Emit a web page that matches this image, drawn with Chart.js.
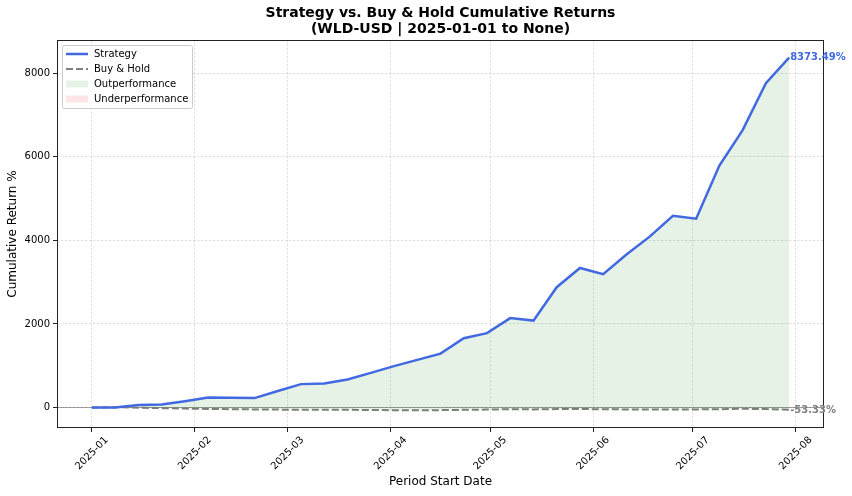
<!DOCTYPE html>
<html>
<head>
<meta charset="utf-8">
<script src="https://cdn.jsdelivr.net/npm/chart.js@4.4.0/dist/chart.umd.min.js"></script>
<style>
html,body{margin:0;padding:0;background:#fff;}
#wrap{width:852px;height:496px;position:relative;}
</style>
</head>
<body>
<div id="wrap"><canvas id="c" width="852" height="496"></canvas></div>
<script>
const periodDates = ["2025-01-01","2025-01-08","2025-01-15","2025-01-22","2025-01-29","2025-02-05","2025-02-12","2025-02-19","2025-02-26","2025-03-05","2025-03-12","2025-03-19","2025-03-26","2025-04-02","2025-04-09","2025-04-16","2025-04-23","2025-04-30","2025-05-07","2025-05-14","2025-05-21","2025-05-28","2025-06-04","2025-06-11","2025-06-18","2025-06-25","2025-07-02","2025-07-09","2025-07-16","2025-07-23","2025-07-30"];
const strategyReturns = [0,2,60,70,150,240,235,225,395,560,575,670,830,990,1140,1290,1660,1780,2140,2080,2880,3340,3190,3660,4090,4590,4520,5790,6640,7760,8373.49];
const buyHoldReturns = [0,8,-5,-15,-25,-35,-40,-45,-50,-55,-52,-55,-58,-65,-68,-62,-55,-50,-40,-45,-38,-35,-42,-45,-50,-48,-45,-40,-30,-38,-53.33];
const monthTickDates = ["2025-01-01","2025-02-01","2025-03-01","2025-04-01","2025-05-01","2025-06-01","2025-07-01","2025-08-01"];
const monthTickLabels = ["2025-01","2025-02","2025-03","2025-04","2025-05","2025-06","2025-07","2025-08"];
const yTickValues = [0,2000,4000,6000,8000];
const strategyFinalLabel = "8373.49%";
const buyHoldFinalLabel = "-53.33%";

const DAY = 86400000;
const t0 = Date.UTC(2025,0,1);
function dayNum(s){const p=s.split('-').map(Number);return (Date.UTC(p[0],p[1]-1,p[2])-t0)/DAY;}
const xs = periodDates.map(dayNum);
const monthTicks = monthTickDates.map(dayNum);
const FONT = "'DejaVu Sans', sans-serif";

const stratPts = xs.map((x,i)=>({x:x,y:strategyReturns[i]}));
const bhPts = xs.map((x,i)=>({x:x,y:buyHoldReturns[i]}));

const xMin = xs[0] - (xs[xs.length-1]-xs[0])*0.05;
const xMax = xs[xs.length-1] + (xs[xs.length-1]-xs[0])*0.05;
const allY = strategyReturns.concat(buyHoldReturns);
const yLo = Math.min(...allY), yHi = Math.max(...allY);
const yMin = yLo - (yHi-yLo)*0.05, yMax = yHi + (yHi-yLo)*0.05;

const decor = {
  id:'decor',
  beforeDatasetsDraw(chart){
    const ctx=chart.ctx, a=chart.chartArea, ys=chart.scales.y;
    const y0=ys.getPixelForValue(0);
    ctx.save();
    ctx.strokeStyle='rgba(0,0,0,0.45)';
    ctx.lineWidth=0.8;
    ctx.beginPath();ctx.moveTo(a.left,y0);ctx.lineTo(a.right,y0);ctx.stroke();
    ctx.restore();
  },
  afterDraw(chart){
    const ctx=chart.ctx, a=chart.chartArea, xsc=chart.scales.x, ysc=chart.scales.y;
    ctx.save();
    // frame
    ctx.strokeStyle='#222';ctx.lineWidth=1;
    ctx.strokeRect(a.left+0.5,a.top+0.5,a.right-a.left-1,a.bottom-a.top-1);
    // x tick labels (rotated 45, centered on tick)
    ctx.font="10px "+FONT;ctx.fillStyle='#000';ctx.textAlign='center';ctx.textBaseline='middle';
    monthTicks.forEach((v,i)=>{
      const px=xsc.getPixelForValue(v);
      const w=ctx.measureText(monthTickLabels[i]).width, h=10;
      const bh=(w+h)*Math.SQRT1_2;
      ctx.save();ctx.translate(px,a.bottom+7+bh/2);ctx.rotate(-Math.PI/4);
      ctx.fillText(monthTickLabels[i],0,0);ctx.restore();
    });
    // title
    const cx=(a.left+a.right)/2;
    ctx.fillStyle='#000';ctx.textAlign='center';ctx.textBaseline='middle';
    ctx.font="bold 14px "+FONT;
    ctx.fillText("Strategy vs. Buy & Hold Cumulative Returns",cx,13);
    ctx.fillText("(WLD-USD | 2025-01-01 to None)",cx,29);
    // axis titles
    ctx.font="12px "+FONT;
    ctx.fillText("Period Start Date",cx,482);
    ctx.save();ctx.translate(13,(a.top+a.bottom)/2);ctx.rotate(-Math.PI/2);
    ctx.fillText("Cumulative Return %",0,0);ctx.restore();
    // end labels
    const lx=xsc.getPixelForValue(xs[xs.length-1])+1;
    ctx.textAlign='left';
    ctx.font="bold 10px "+FONT;ctx.fillStyle='#4169E1';
    ctx.fillText(strategyFinalLabel,lx,ysc.getPixelForValue(strategyReturns[strategyReturns.length-1]));
    ctx.fillStyle='#808080';
    ctx.fillText(buyHoldFinalLabel,lx,ysc.getPixelForValue(buyHoldReturns[buyHoldReturns.length-1])+1);
    // legend
    const bx=a.left+5, by=a.top+5, bw=130, bh=63;
    ctx.fillStyle='rgba(255,255,255,0.85)';ctx.strokeStyle='#cccccc';ctx.lineWidth=1;
    ctx.beginPath();
    if(ctx.roundRect){ctx.roundRect(bx+0.5,by+0.5,bw,bh,2);}else{ctx.rect(bx+0.5,by+0.5,bw,bh);}
    ctx.fill();ctx.stroke();
    const rows=[by+9,by+24,by+39,by+54];
    ctx.lineWidth=2.5;ctx.strokeStyle='#4169E1';ctx.setLineDash([]);
    ctx.beginPath();ctx.moveTo(bx+4,rows[0]);ctx.lineTo(bx+26,rows[0]);ctx.stroke();
    ctx.lineWidth=2;ctx.strokeStyle='#808080';ctx.setLineDash([7,3]);
    ctx.beginPath();ctx.moveTo(bx+4,rows[1]);ctx.lineTo(bx+26,rows[1]);ctx.stroke();
    ctx.setLineDash([]);
    ctx.fillStyle='rgba(0,128,0,0.1)';ctx.fillRect(bx+4,rows[2]-3.5,22,7);
    ctx.fillStyle='rgba(255,0,0,0.1)';ctx.fillRect(bx+4,rows[3]-3.5,22,7);
    ctx.fillStyle='#000';ctx.font="10px "+FONT;ctx.textBaseline='middle';
    ["Strategy","Buy & Hold","Outperformance","Underperformance"].forEach((t,i)=>ctx.fillText(t,bx+32,rows[i]));
    ctx.restore();
  }
};

new Chart(document.getElementById('c'),{
  type:'line',
  data:{datasets:[
    {label:'Strategy',data:stratPts,borderColor:'#4169E1',borderWidth:2.5,pointRadius:0,tension:0,
     fill:{target:1,above:'rgba(0,128,0,0.1)',below:'rgba(255,0,0,0.1)'}},
    {label:'Buy & Hold',data:bhPts,borderColor:'#808080',borderWidth:2,borderDash:[7,3],pointRadius:0,tension:0,fill:false}
  ]},
  options:{
    responsive:false,animation:false,
    layout:{padding:{top:40,right:28,left:0,bottom:0}},
    plugins:{legend:{display:false},title:{display:false},tooltip:{enabled:false}},
    scales:{
      x:{type:'linear',min:xMin,max:xMax,
        afterBuildTicks(s){s.ticks=monthTicks.map(v=>({value:v}));},
        afterFit(s){s.height=68;},
        ticks:{autoSkip:false,color:'rgba(0,0,0,0)',font:{family:FONT,size:10},
          callback:(v)=>{const i=monthTicks.indexOf(v);return i>=0?monthTickLabels[i]:'';}},
        grid:{color:'rgba(176,176,176,0.55)',lineWidth:0.7,tickColor:'#222',tickLength:4,tickWidth:1},
        border:{display:false,dash:[2.5,1.5]}
      },
      y:{type:'linear',min:yMin,max:yMax,
        afterBuildTicks(s){s.ticks=yTickValues.map(v=>({value:v}));},
        afterFit(s){s.width=57;},
        ticks:{padding:3,color:'#000',font:{family:FONT,size:10},callback:(v)=>String(v)},
        grid:{color:'rgba(176,176,176,0.55)',lineWidth:0.7,tickColor:'#222',tickLength:4,tickWidth:1},
        border:{display:false,dash:[2.5,1.5]}
      }
    }
  },
  plugins:[decor]
});
</script>
</body>
</html>
